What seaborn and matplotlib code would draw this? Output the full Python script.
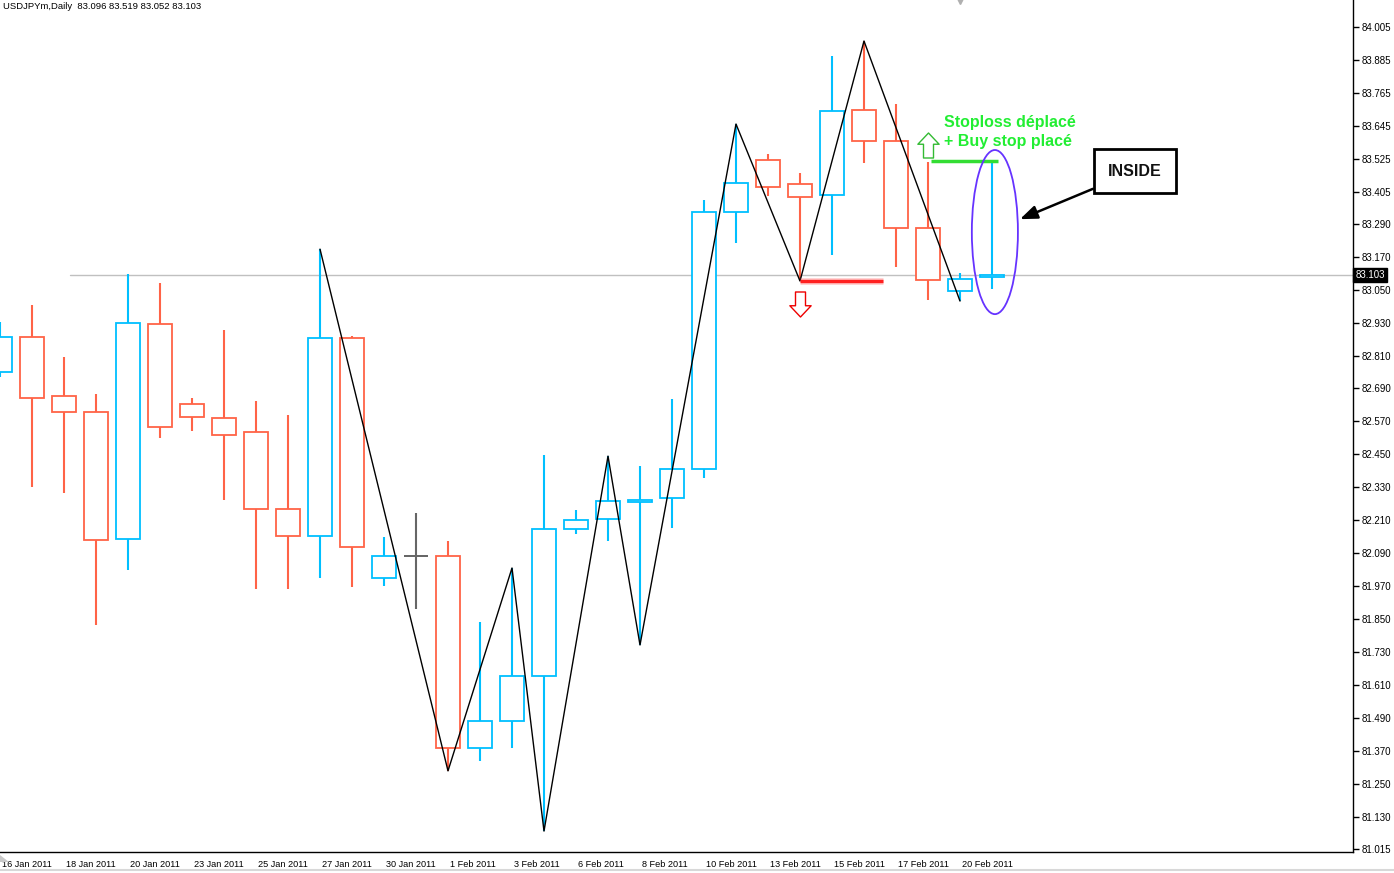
import numpy as np
import pandas as pd
import matplotlib
matplotlib.use("Agg")
import matplotlib.pyplot as plt
from matplotlib.patches import Ellipse
from matplotlib.path import Path
import matplotlib.transforms as mtransforms
import seaborn as sns

# daily bars, USDJPYm (broker days incl. sundays)
dates = ["16 Jan 2011", "17 Jan 2011", "18 Jan 2011", "19 Jan 2011", "20 Jan 2011", "21 Jan 2011",
         "23 Jan 2011", "24 Jan 2011", "25 Jan 2011", "26 Jan 2011", "27 Jan 2011", "28 Jan 2011",
         "30 Jan 2011", "31 Jan 2011", "1 Feb 2011", "2 Feb 2011", "3 Feb 2011", "4 Feb 2011",
         "6 Feb 2011", "7 Feb 2011", "8 Feb 2011", "9 Feb 2011", "10 Feb 2011", "11 Feb 2011",
         "13 Feb 2011", "14 Feb 2011", "15 Feb 2011", "16 Feb 2011", "17 Feb 2011", "18 Feb 2011",
         "20 Feb 2011", "21 Feb 2011"]
opens = [82.750, 82.877, 82.663, 82.605, 82.143, 82.925, 82.634, 82.583, 82.532, 82.252,
         82.153, 82.874, 82.001, 82.081, 82.081, 81.382, 81.480, 81.644, 82.179, 82.215,
         82.277, 82.292, 82.397, 83.332, 83.521, 83.434, 83.394, 83.703, 83.590, 83.274,
         83.045, 83.096]
highs = [82.932, 82.994, 82.805, 82.670, 83.107, 83.074, 82.655, 82.903, 82.645, 82.594,
         83.197, 82.881, 82.150, 82.237, 82.135, 81.841, 82.037, 82.448, 82.248, 82.444,
         82.408, 82.652, 83.376, 83.652, 83.543, 83.474, 83.900, 83.954, 83.725, 83.514,
         83.110, 83.519]
lows = [82.732, 82.332, 82.310, 81.830, 82.030, 82.510, 82.535, 82.284, 81.961, 81.961,
        82.001, 81.968, 81.972, 81.888, 81.299, 81.335, 81.382, 81.080, 82.161, 82.135,
        81.757, 82.183, 82.364, 83.219, 83.390, 83.081, 83.176, 83.510, 83.132, 83.012,
        83.008, 83.052]
closes = [82.877, 82.655, 82.605, 82.139, 82.928, 82.550, 82.586, 82.521, 82.252, 82.153,
          82.874, 82.113, 82.081, 82.081, 81.382, 81.480, 81.644, 82.179, 82.212, 82.281,
          82.284, 82.397, 83.332, 83.438, 83.423, 83.387, 83.699, 83.590, 83.274, 83.085,
          83.088, 83.103]

# zigzag swing points (bar index, high/low)
zz_bars = [10, 14, 16, 17, 19, 20, 23, 25, 27, 30]
zz_kind = ["H", "L", "H", "L", "H", "L", "H", "L", "H", "L"]

price_ticks = [84.005, 83.885, 83.765, 83.645, 83.525, 83.405, 83.290, 83.170, 83.050,
               82.930, 82.810, 82.690, 82.570, 82.450, 82.330, 82.210, 82.090, 81.970,
               81.850, 81.730, 81.610, 81.490, 81.370, 81.250, 81.130, 81.015]

sl_level = 83.081       # red line, low of 14 Feb
buy_stop = highs[-1]    # green line, high of inside bar
last_price = closes[-1]

UP = "#00bfff"
DOWN = "#ff6347"

sns.set_style("white")
plt.rcParams["font.family"] = ["Liberation Sans", "DejaVu Sans"]

df = pd.DataFrame({"date": dates, "open": opens, "high": highs, "low": lows, "close": closes})
df["x"] = np.arange(len(df))
df["color"] = np.where(df["close"] > df["open"], UP, np.where(df["close"] < df["open"], DOWN, "#666666"))

W, H = 1394, 873
fig = plt.figure(figsize=(W / 100, H / 100), dpi=100)
ax = fig.add_axes([0, 21 / H, 1353 / W, 852 / H])
ax.set_xlim(0, 1353 / 32)
ax.set_ylim(81.0039, 84.1032)

# bid line
ax.axhline(last_price, xmin=70 / 1353, xmax=1, color="#c0c0c0", lw=1, zorder=1)

# candles
ax.vlines(df["x"], df["low"], df["high"], colors=df["color"], lw=1.5, zorder=2)
body_lo = df[["open", "close"]].min(axis=1)
body_h = (df["close"] - df["open"]).abs()
ax.bar(df["x"], body_h, bottom=body_lo, width=0.72, facecolor="white",
       edgecolor=df["color"], linewidth=1.3, zorder=3)
doji = df[body_h == 0]
ax.hlines(doji["open"], doji["x"] - 0.36, doji["x"] + 0.36, colors=doji["color"], lw=1.3, zorder=4)

# zigzag
zz = pd.DataFrame({"x": zz_bars,
                   "y": [highs[b] if k == "H" else lows[b] for b, k in zip(zz_bars, zz_kind)]})
sns.lineplot(data=zz, x="x", y="y", color="black", lw=1, sort=False, ax=ax, zorder=5)

# stop lines
ax.hlines(sl_level, 25, 27.6, colors="#ff8080", lw=5, alpha=0.35, zorder=5)
ax.hlines(sl_level, 25, 27.6, colors="#ff2020", lw=2.5, zorder=6)
ax.hlines(buy_stop, 29.1, 31.2, colors="#33dd33", lw=2.5, zorder=6)

# hollow block arrows
up_arrow = Path([(0, 1), (0.85, 0.1), (0.4, 0.1), (0.4, -1), (-0.4, -1), (-0.4, 0.1),
                 (-0.85, 0.1), (0, 1)], closed=True)
down_arrow = Path([(0, -1), (0.85, -0.1), (0.4, -0.1), (0.4, 1), (-0.4, 1), (-0.4, -0.1),
                   (-0.85, -0.1), (0, -1)], closed=True)
ax.plot([29], [83.574], marker=up_arrow, ms=18, mfc="white", mec="#33bb33", mew=1, zorder=7)
ax.plot([25], [82.999], marker=down_arrow, ms=18, mfc="white", mec="#ee0000", mew=1, zorder=7)

ax.text(29.5, 83.656, "Stoploss déplacé", color="#22ee33", fontsize=11.5, fontweight="bold",
        va="center", ha="left", zorder=8)
ax.text(29.5, 83.587, "+ Buy stop placé", color="#22ee33", fontsize=11.5, fontweight="bold",
        va="center", ha="left", zorder=8)

ax.add_patch(Ellipse((31.09, 83.259), 1.44, 0.597, fill=False, ec="#6633ff", lw=1.3, zorder=8))

ax.annotate("INSIDE", xy=(31.875, 83.306), xytext=(35.47, 83.48), fontsize=11.5, fontweight="bold",
            ha="center", va="center", color="#111111", zorder=9,
            bbox=dict(boxstyle="square,pad=0.9", fc="white", ec="black", lw=2),
            arrowprops=dict(arrowstyle="-|>,head_length=0.9,head_width=0.35", color="black",
                            lw=1.8, shrinkA=0, shrinkB=0))

# header
o, h, l, c = opens[-1], highs[-1], lows[-1], closes[-1]
ax.text(3 / 32, 84.1032 - 6 / 274.9, f"USDJPYm,Daily  {o:.3f} {h:.3f} {l:.3f} {c:.3f}",
        fontsize=6.8, va="center", ha="left", color="black")

# MT4 shift marker at top and corner marker
ax.plot([30], [84.1032], marker="v", ms=6, color="#b0b0b0", clip_on=False, zorder=10)
fig.patches.append(plt.Polygon([(0, 18 / H), (0, 11 / H), (9 / W, 11 / H)], closed=True,
                               transform=fig.transFigure, fc="#c8c8c8", ec="none"))
fig.lines.append(plt.Line2D([0, 1], [3 / H, 3 / H], transform=fig.transFigure,
                            color="#d8d8d8", lw=1.5))

# axes styling (MT4 look)
for s in ["top", "left"]:
    ax.spines[s].set_visible(False)
ax.spines["right"].set_color("black")
ax.spines["bottom"].set_color("black")
ax.spines["right"].set_linewidth(1)
ax.spines["bottom"].set_linewidth(1)

ax.yaxis.tick_right()
ax.set_yticks(price_ticks)
ax.set_yticklabels([f"{p:.3f}" for p in price_ticks])
ax.tick_params(axis="y", direction="out", length=4, width=1, pad=2, labelsize=7, colors="black")

xt = df["x"][::2]
ax.set_xticks(xt)
ax.set_xticklabels(df["date"][::2], ha="left")
ax.tick_params(axis="x", direction="out", length=4, width=1, pad=1.5, labelsize=6.6, colors="black")
shift = mtransforms.ScaledTranslation(2 / 100, 0, fig.dpi_scale_trans)
for lab in ax.get_xticklabels():
    lab.set_transform(lab.get_transform() + shift)
ax.set_xlabel("")
ax.set_ylabel("")

# last price marker on the scale
ax.text(1.0017, last_price, f"{last_price:.3f}", transform=ax.get_yaxis_transform(),
        fontsize=7, color="white", va="center", ha="left",
        bbox=dict(boxstyle="square,pad=0.2", fc="black", ec="black"), zorder=10)

fig.savefig("out.png", dpi=100)
